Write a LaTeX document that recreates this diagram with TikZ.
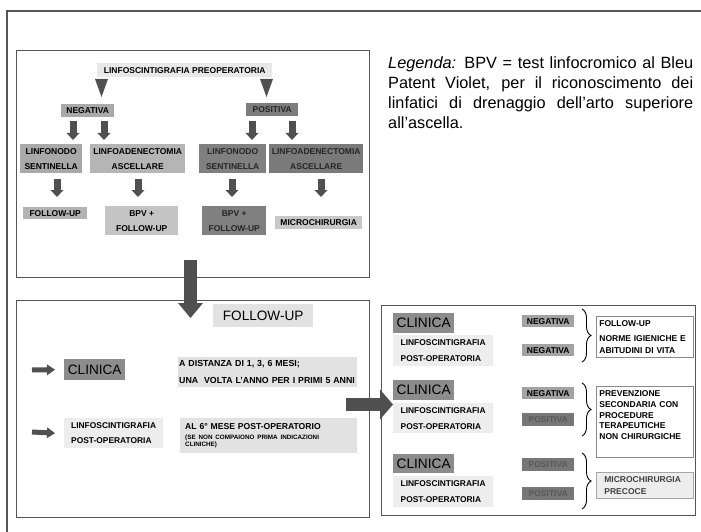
\documentclass[tikz,border=0pt]{standalone}
\usepackage{fontspec}
\setmainfont{Liberation Sans}
\usetikzlibrary{arrows.meta,decorations.pathreplacing}
\definecolor{frameC}{HTML}{555555}
\definecolor{arrC}{HTML}{505050}
\definecolor{cPre}{HTML}{E8E8E8}
\definecolor{cNeg}{HTML}{A9A9A9}
\definecolor{cPos}{HTML}{7D7D7D}
\definecolor{cLAn}{HTML}{B5B5B5}
\definecolor{cLSp}{HTML}{808080}
\definecolor{cLAp}{HTML}{7A7A7A}
\definecolor{cFun}{HTML}{B3B3B3}
\definecolor{cBpn}{HTML}{C4C4C4}
\definecolor{cMic}{HTML}{C8C8C8}
\definecolor{cPale}{HTML}{E2E2E2}
\definecolor{cLinf}{HTML}{EDEDED}
\definecolor{cClin}{HTML}{8C8C8C}
\definecolor{cNegR}{HTML}{A3A3A3}
\definecolor{cPosR}{HTML}{777777}
\definecolor{cRes}{HTML}{8A8A8A}
\newcommand\BX[7]{\node[#2,minimum width=#5pt,minimum height=#6pt,anchor=north west] (#1) at (#3,#4) {#7};}
\begin{document}
\begin{tikzpicture}[x=1pt,y=-1pt,
  lab/.style={font=\fontsize{8.5}{15}\selectfont\bfseries, inner sep=0pt, align=center},
  bigl/.style={font=\fontsize{13.6}{16}\selectfont, inner sep=0pt},
  lefttxt/.style={align=left, inner ysep=0pt},
  panel/.style={draw=frameC, line width=1pt},
  fat/.style={draw=arrC, line width=7pt, -{Triangle[width=13pt,length=7pt,line width=0pt]}},
  thin/.style={draw=arrC, line width=5pt, -{Triangle[width=11pt,length=8pt,line width=0pt]}},
  brc/.style={draw=black, line width=0.9pt, decorate, decoration={brace, amplitude=9pt}},
  res/.style={draw=cRes, line width=0.8pt, fill=white, align=left, inner ysep=0pt,
              font=\fontsize{8.5}{12}\selectfont\bfseries}
]
\useasboundingbox (0,0) rectangle (701,532);
% outer frame
\draw[frameC, line width=1.2pt] (7,532) -- (7,11) -- (701,11);
% panels
\draw[panel] (16,51) rectangle (369,277);
\draw[panel] (16,300) rectangle (369,517);
\draw[panel] (381,305) rectangle (695,515);

% legend
\node[anchor=north west, inner sep=0pt, text width=305pt, align=justify,
      font=\fontsize{16.3}{20.3}\selectfont] (leg) at (388,56)
  {\textit{Legenda:} BPV = test linfocromico al Bleu\linebreak Patent Violet, per il riconoscimento dei\linebreak linfatici di drenaggio dell’arto superiore\linebreak all’ascella.};

% ---- top panel
\BX{pre}{lab,fill=cPre}{97}{63}{175}{14}{LINFOSCINTIGRAFIA PREOPERATORIA}
\BX{neg}{lab,fill=cNeg}{61}{104}{53}{13}{NEGATIVA}
\BX{pos}{lab,fill=cPos,text=black!85}{246}{103}{52}{13}{POSITIVA}
\BX{lsn}{lab,fill=cNeg}{20}{144}{62}{29}{LINFONODO\\SENTINELLA}
\BX{lan}{lab,fill=cLAn}{90}{144}{95}{29}{LINFOADENECTOMIA\\ASCELLARE}
\BX{lsp}{lab,fill=cLSp,text=black!85}{199}{144}{67}{29}{LINFONODO\\SENTINELLA}
\BX{lap}{lab,fill=cLAp,text=black!85}{269}{144}{94}{29}{LINFOADENECTOMIA\\ASCELLARE}
\BX{fun}{lab,fill=cFun}{23}{207}{64}{12}{FOLLOW-UP}
\BX{bpn}{lab,fill=cBpn}{105}{206}{73}{29}{BPV +\\FOLLOW-UP}
\BX{bpp}{lab,fill=cLSp,text=black!85}{202}{206}{64}{29}{BPV +\\FOLLOW-UP}
\BX{mic}{lab,fill=cMic}{275}{216}{87}{13}{MICROCHIRURGIA}

\fill[arrC] (95,79) -- (108,79) -- (101.5,97) -- cycle;
\fill[arrC] (260,79) -- (273,79) -- (266.5,97) -- cycle;
\foreach \x in {73,104,252,292} \draw[fat] (\x,121) -- (\x,140);
\foreach \x in {57,138,232,321} \draw[fat] (\x,179) -- (\x,197);

% ---- bottom-left panel
\BX{fub}{bigl,fill=cPale}{213}{304}{100}{23}{FOLLOW-UP}
\BX{cl0}{bigl,fill=cClin}{64}{359}{61}{21}{CLINICA}
\BX{dist}{lefttxt,fill=cPale,font=\fontsize{8.8}{17}\selectfont\bfseries,text width=177pt,inner xsep=1pt}{178}{357}{179}{30}{A DISTANZA DI 1, 3, 6 MESI;\\\mbox{UNA\ \ VOLTA L’ANNO PER I PRIMI 5 ANNI}}
\BX{ls0}{lefttxt,fill=cLinf,font=\fontsize{8.4}{15}\selectfont\bfseries,text width=85pt,inner xsep=7pt}{64}{418}{99}{30}{LINFOSCINTIGRAFIA\\POST-OPERATORIA}
\BX{al6}{lefttxt,fill=cPale,font=\fontsize{8.6}{11}\selectfont\bfseries,text width=167pt,inner xsep=5pt}{180}{418}{177}{35}{AL 6° MESE POST-OPERATORIO\\[-1pt]{\fontsize{6.3}{6.6}\selectfont\begin{tabular}[t]{@{}l@{}}(SE NON COMPAIONO PRIMA INDICAZIONI\\CLINICHE)\end{tabular}}}

\coordinate (ar1) at (32,370);
\coordinate (ar2) at (32,432);
\draw[thin] (ar1) -- (cl0.west -| 55,0);
\draw[thin] (ar2) -- (ls0.west -| 55,0);

% ---- right panel
\BX{cl1}{bigl,fill=cClin,font=\fontsize{13.7}{16}\selectfont}{393}{313}{61}{20}{CLINICA}
\BX{lf1}{lefttxt,fill=cLinf,font=\fontsize{8.4}{16}\selectfont\bfseries,text width=85pt,inner xsep=7pt}{393}{335}{100}{31}{LINFOSCINTIGRAFIA\\POST-OPERATORIA}
\BX{n11}{lab,fill=cNegR}{522}{315}{52}{12}{NEGATIVA}
\BX{n12}{lab,fill=cNegR}{522}{344}{52}{12}{NEGATIVA}
\BX{r1}{res,text width=91pt,inner xsep=3pt}{596}{316}{97}{41}{FOLLOW-UP\\[3pt]NORME IGIENICHE E\\ABITUDINI DI VITA}
\coordinate (b1t) at (582,309);
\coordinate (b1b) at (582,362);
\draw[brc] (b1t) -- (b1b);

\BX{cl2}{bigl,fill=cClin,font=\fontsize{13.7}{16}\selectfont}{393}{380}{61}{20}{CLINICA}
\BX{lf2}{lefttxt,fill=cLinf,font=\fontsize{8.4}{16}\selectfont\bfseries,text width=85pt,inner xsep=7pt}{393}{403}{100}{30}{LINFOSCINTIGRAFIA\\POST-OPERATORIA}
\BX{n21}{lab,fill=cNegR}{522}{387}{52}{12}{NEGATIVA}
\BX{p22}{lab,fill=cPosR,text=black!65}{522}{413}{52}{13}{POSITIVA}
\BX{r2}{res,font=\fontsize{8.5}{10.8}\selectfont\bfseries,text width=91pt,inner xsep=3pt,text height=10pt,text depth=61pt}{596}{386}{97}{71}{PREVENZIONE\\SECONDARIA CON\\PROCEDURE\\TERAPEUTICHE\\NON CHIRURGICHE}
\coordinate (b2t) at (582,383);
\coordinate (b2b) at (582,436);
\draw[brc] (b2t) -- (b2b);

\BX{cl3}{bigl,fill=cClin,font=\fontsize{13.7}{16}\selectfont}{393}{454}{61}{19}{CLINICA}
\BX{lf3}{lefttxt,fill=cLinf,font=\fontsize{8.4}{16}\selectfont\bfseries,text width=85pt,inner xsep=7pt}{393}{476}{100}{31}{LINFOSCINTIGRAFIA\\POST-OPERATORIA}
\BX{p31}{lab,fill=cPosR,text=black!65}{522}{458}{52}{13}{POSITIVA}
\BX{p32}{lab,fill=cPosR,text=black!65}{522}{487}{52}{13}{POSITIVA}
\BX{r3}{res,draw=black!35,fill=cLinf,text=black!75,font=\fontsize{8.5}{12}\selectfont\bfseries,text width=81pt,inner xsep=8pt}{596}{472}{97}{26}{MICROCHIRURGIA\\PRECOCE}
\coordinate (b3t) at (582,453);
\coordinate (b3b) at (582,509);
\draw[brc] (b3t) -- (b3b);

% ---- big connecting arrows
\coordinate (bd1) at (190.5,260);
\coordinate (bd2) at (190.5,318);
\draw[draw=arrC, line width=13pt, -{Triangle[width=25pt,length=15pt,line width=0pt]}] (bd1) -- (bd2);
\coordinate (br1) at (346,404.5);
\draw[draw=arrC, line width=13pt, -{Triangle[width=30pt,length=13pt,line width=0pt]}] (br1) -- (cl2.west |- br1);
\end{tikzpicture}
\end{document}
